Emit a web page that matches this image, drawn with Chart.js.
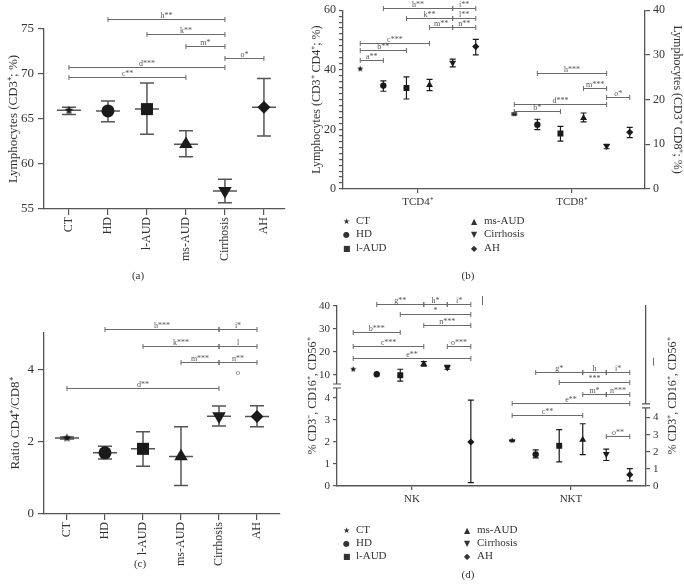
<!DOCTYPE html>
<html>
<head>
<meta charset="utf-8">
<title>Lymphocyte subsets</title>
<script src="https://cdn.jsdelivr.net/npm/chart.js@4.4.1/dist/chart.umd.min.js"></script>
<style>
  html, body { margin: 0; padding: 0; background: #fff; }
  #fig { position: relative; width: 684px; height: 585px; overflow: hidden; font-family: "Liberation Serif", serif; color: #333; }
  #fig canvas { position: absolute; }
  .tag { position: absolute; font-size: 11px; transform: translate(-50%, -50%); }
  .key { position: absolute; font-size: 11px; white-space: nowrap; transform: translateY(-50%); line-height: 1; }
  .key i { font-style: normal; font-family: "DejaVu Sans", sans-serif; font-size: 8px; display: inline-block; width: 13px; text-align: left; }
</style>
</head>
<body>
<div id="fig">
  <canvas id="ca" width="340" height="290" style="left:0;top:0"></canvas>
  <canvas id="cb" width="394" height="215" style="left:290px;top:0"></canvas>
  <canvas id="cc" width="340" height="295" style="left:0;top:290px"></canvas>
  <canvas id="cd" width="394" height="225" style="left:290px;top:290px"></canvas>

  <div class="tag" style="left:138px;top:275px">(a)</div>
  <div class="tag" style="left:468px;top:275px">(b)</div>
  <div class="tag" style="left:140px;top:563px">(c)</div>
  <div class="tag" style="left:468px;top:574px">(d)</div>

  <!-- légende (b) -->
  <div class="key" style="left:343px;top:220px"><i>★</i>CT</div>
  <div class="key" style="left:343px;top:233px"><i>●</i>HD</div>
  <div class="key" style="left:343px;top:247px"><i>■</i>l-AUD</div>
  <div class="key" style="left:471px;top:220px"><i>▲</i>ms-AUD</div>
  <div class="key" style="left:471px;top:233px"><i>▼</i>Cirrhosis</div>
  <div class="key" style="left:471px;top:247px"><i>◆</i>AH</div>

  <!-- légende (d) -->
  <div class="key" style="left:343px;top:529px"><i>★</i>CT</div>
  <div class="key" style="left:343px;top:542px"><i>●</i>HD</div>
  <div class="key" style="left:343px;top:555px"><i>■</i>l-AUD</div>
  <div class="key" style="left:464px;top:529px"><i>▲</i>ms-AUD</div>
  <div class="key" style="left:464px;top:542px"><i>▼</i>Cirrhosis</div>
  <div class="key" style="left:464px;top:555px"><i>◆</i>AH</div>
</div>

<script>
// ---------------------------------------------------------------------------
// Données (moyenne, borne basse, borne haute)
// ---------------------------------------------------------------------------
const groupes = ['CT', 'HD', 'l-AUD', 'ms-AUD', 'Cirrhosis', 'AH'];

// (a) Lymphocytes CD3+ (%)
const aMean = [65.97, 65.9, 66.1, 62.2, 57.0, 66.3];
const aLow  = [65.5, 64.7, 63.3, 60.8, 55.7, 63.1];
const aHigh = [66.3, 67.0, 69.0, 63.7, 58.3, 69.5];
const aTicks = [55, 60, 65, 70, 75];
// [de, à, niveau, texte]
const aBrackets = [
  [1, 4, 76.1, 'h**'], [2, 4, 74.4, 'k**'], [3, 4, 73.1, 'm*'],
  [4, 5, 71.8, 'o*'], [0, 4, 70.8, 'd***'], [0, 3, 69.7, 'c**'],
];

// (b) TCD4+ (axe gauche) et TCD8+ (axe droit)
const bGroupes = ['TCD4⁺', 'TCD8⁺'];
const cd4Mean = [40.3, 34.7, 33.9, 34.9, 42.4, 47.8];
const cd4Low  = [40.3, 32.8, 30.2, 33.0, 41.0, 45.0];
const cd4High = [40.3, 36.3, 37.6, 36.8, 43.6, 50.2];
const cd8Mean = [16.8, 14.4, 12.4, 15.9, 9.6, 12.7];
const cd8Low  = [16.6, 13.3, 10.7, 15.0, 9.0, 11.5];
const cd8High = [17.0, 15.6, 14.0, 17.0, 10.0, 13.8];
const cd4Ticks = [0, 20, 40, 60];
const cd8Ticks = [0, 10, 20, 30, 40];
const cd4Brackets = [
  [1, 4, 60.6, 'h**'], [4, 5, 60.6, 'i**'], [2, 4, 57.4, 'k**'], [4, 5, 57.4, 'l**'],
  [3, 4, 54.3, 'm**'], [4, 5, 54.3, 'n**'], [0, 3, 49.1, 'c***'], [0, 2, 46.7, 'b**'],
  [0, 1, 43.4, 'a**'],
];
const cd8Brackets = [
  [1, 4, 25.9, 'h***'], [3, 4, 22.6, 'm***'], [4, 5, 20.6, 'o*'],
  [0, 4, 19.1, 'd***'], [0, 2, 17.5, 'b*'],
];

// (c) Ratio CD4+/CD8+
const cMean = [2.10, 1.69, 1.80, 1.59, 2.70, 2.69];
const cLow  = [2.07, 1.52, 1.32, 0.79, 2.43, 2.41];
const cHigh = [2.13, 1.87, 2.27, 2.41, 2.98, 2.99];
const cTicks = [0, 2, 4];
const cBrackets = [
  [1, 4, 5.10, 'h***'], [4, 5, 5.10, 'i*'], [2, 4, 4.64, 'k***'], [4, 5, 4.64, 'l'],
  [3, 4, 4.21, 'm***'], [4, 5, 4.21, 'n**'], [4, 5, 3.81, 'o', false], [0, 4, 3.48, 'd**'],
];

// (d) NK (axe gauche coupé) et NKT (axe droit coupé)
const dGroupes = ['NK', 'NKT'];
const nkMean  = [12.5, 10.3, 9.9, 14.8, 13.3, 2.0];
const nkLow   = [12.4, 10.2, 7.3, 13.8, 12.5, 0.15];
const nkHigh  = [12.6, 10.4, 12.5, 15.8, 14.2, 3.9];
const nktMean = [2.65, 1.85, 2.35, 2.70, 1.87, 0.66];
const nktLow  = [2.62, 1.65, 1.41, 1.83, 1.49, 0.30];
const nktHigh = [2.68, 2.11, 3.30, 3.64, 2.15, 1.01];
const dLoTicks = [0, 1, 2, 3, 4];
const dHiTicks = [10, 20, 30, 40];
const nkBrackets = [
  [1, 3, 40.9, 'g**'], [3, 4, 40.9, 'h*'], [4, 5, 40.9, 'i*'], [2, 5, 36.5, '*'],
  [3, 5, 31.9, 'n***'], [0, 2, 28.7, 'b***'], [0, 3, 22.6, 'c***'], [4, 5, 22.4, 'o***'],
  [0, 5, 17.4, 'e**'],
];
const nktBrackets = [
  [1, 3, 6.69, 'g*'], [3, 4, 6.69, 'h'], [4, 5, 6.69, 'i*'], [2, 5, 6.06, '***'],
  [3, 4, 5.39, 'm*'], [4, 5, 5.39, 'n***'], [0, 5, 4.84, 'e**'], [0, 3, 4.15, 'c**'],
  [4, 5, 2.91, 'o**'],
];
const dTitreGauche = '% CD3⁻, CD16⁺, CD56⁺';
const dTitreDroite = '% CD3⁺, CD16⁺, CD56⁺';

// ---------------------------------------------------------------------------
// Style
// ---------------------------------------------------------------------------
const SERIF = '"Liberation Serif", "Times New Roman", serif';
const INK = '#1a1a1a';
const AXIS = '#555555';
const TEXT = '#333333';
const BRACKET = '#6a6a6a';

const FORMES = ['star', 'circle', 'rect', 'triangle', 'triangle', 'rectRot'];
const ROTATION = [0, 0, 0, 0, 180, 0];
const TAILLE_GRANDE = [4.5, 6.5, 8.5, 7.8, 7.8, 6.5];
const TAILLE_PETITE = [3, 3.2, 4.2, 4, 4, 3.6];

Chart.defaults.font.family = SERIF;
Chart.defaults.color = TEXT;

// étoile pleine (le 'star' de Chart.js n'est qu'un trait)
function etoile(r) {
  const c = document.createElement('canvas');
  const s = Math.ceil(r * 2 + 2);
  c.width = s; c.height = s;
  const g = c.getContext('2d');
  g.fillStyle = INK;
  g.beginPath();
  for (let i = 0; i < 10; i++) {
    const rr = i % 2 ? r * 0.45 : r;
    const a = -Math.PI / 2 + i * Math.PI / 5;
    g.lineTo(s / 2 + rr * Math.cos(a), s / 2 + rr * Math.sin(a));
  }
  g.closePath();
  g.fill();
  return c;
}

function stylePoints(tailles, star) {
  return {
    showLine: false,
    pointStyle: (c) => (c.raw ? (c.raw.s === 0 ? star : FORMES[c.raw.s]) : 'circle'),
    pointRadius: (c) => (c.raw ? tailles[c.raw.s] : 3),
    pointRotation: (c) => (c.raw ? ROTATION[c.raw.s] : 0),
    pointBackgroundColor: INK,
    pointBorderWidth: 0,
  };
}

// --- Axes --------------------------------------------------------------------

function axeGroupes(min, max, labels, o) {
  return {
    type: 'linear', min, max,
    afterBuildTicks: (s) => { s.ticks = labels.map((_, i) => ({ value: i })); },
    afterFit: (s) => { s.height = o.height; },
    ticks: {
      callback: (v) => labels[v], autoSkip: false,
      minRotation: o.rot, maxRotation: o.rot,
      font: { size: o.size }, color: TEXT, padding: o.pad,
    },
    grid: { drawOnChartArea: false, tickLength: o.tick, color: AXIS, lineWidth: 1.2 },
    border: { color: AXIS, width: o.dash ? 1.6 : 1.3, dash: o.dash || [] },
  };
}

function axeValeurs(o) {
  const axe = {
    type: 'linear', position: o.pos || 'left', min: o.min, max: o.max,
    afterBuildTicks: (s) => { s.ticks = o.ticks.map((v) => ({ value: v })); },
    afterFit: (s) => { s.width = o.width; },
    ticks: { display: o.ticks.length > 0, autoSkip: false, font: { size: o.size }, color: TEXT, padding: o.pad },
    grid: { display: o.ticks.length > 0, drawOnChartArea: false, tickLength: o.tick, color: AXIS, lineWidth: 1.2 },
    border: { color: AXIS, width: 1.3 },
    title: { display: false },
  };
  if (o.stack) { axe.stack = o.stack; axe.stackWeight = o.weight; }
  if (o.label) axe.ticks.callback = o.label;
  if (o.title) {
    axe.title = { display: true, text: o.title, font: { size: o.tsize }, color: TEXT, padding: { top: o.tpad, bottom: 0 } };
  }
  return axe;
}

// --- Plugins ------------------------------------------------------------------

const pixParDefaut = (chart, axe, v) => chart.scales[axe].getPixelForValue(v);

function barresErreur(o) {
  const pix = o.pix || pixParDefaut;
  return {
    id: 'barresErreur',
    beforeDatasetsDraw(chart) {
      const ctx = chart.ctx;
      ctx.save();
      ctx.strokeStyle = o.color;
      ctx.lineWidth = o.width;
      chart.data.datasets.forEach((ds, di) => {
        const meta = chart.getDatasetMeta(di);
        meta.data.forEach((el, i) => {
          const r = ds.data[i];
          const yl = pix(chart, meta.yAxisID, r.lo);
          const yh = pix(chart, meta.yAxisID, r.hi);
          ctx.beginPath();
          if (yl - yh > 1) {
            ctx.moveTo(el.x, yh); ctx.lineTo(el.x, yl);
            ctx.moveTo(el.x - o.cap, yh); ctx.lineTo(el.x + o.cap, yh);
            ctx.moveTo(el.x - o.cap, yl); ctx.lineTo(el.x + o.cap, yl);
          }
          if (o.mean) { ctx.moveTo(el.x - o.mean, el.y); ctx.lineTo(el.x + o.mean, el.y); }
          ctx.stroke();
        });
      });
      ctx.restore();
    },
  };
}

function crochets(liste, pix) {
  pix = pix || pixParDefaut;
  return {
    id: 'crochets',
    afterDatasetsDraw(chart) {
      const ctx = chart.ctx;
      const xs = chart.scales.x;
      ctx.save();
      ctx.strokeStyle = BRACKET;
      ctx.fillStyle = '#555';
      ctx.lineWidth = 1;
      ctx.font = '8px ' + SERIF;
      ctx.textAlign = 'center';
      ctx.textBaseline = 'alphabetic';
      liste.forEach((b) => {
        const x1 = xs.getPixelForValue(b.x1);
        const x2 = xs.getPixelForValue(b.x2);
        const y = Math.round(pix(chart, b.axe, b.v)) + 0.5;
        if (b.trait !== false) {
          ctx.beginPath();
          ctx.moveTo(x1, y); ctx.lineTo(x2, y);
          ctx.moveTo(x1, y - 2.5); ctx.lineTo(x1, y + 2.5);
          ctx.moveTo(x2, y - 2.5); ctx.lineTo(x2, y + 2.5);
          ctx.stroke();
        }
        ctx.fillText(b.t, (x1 + x2) / 2, y - 2);
      });
      ctx.restore();
    },
  };
}

const enCategorie = (liste) => liste.map(([a, b, v, t, trait]) => ({ x1: a, x2: b, v, t, trait, axe: 'y' }));
const enGroupe = (liste, g, ecart, axe) =>
  liste.map(([a, b, v, t]) => ({ x1: g + (a - 2.5) * ecart, x2: g + (b - 2.5) * ecart, v, t, axe }));

const pointsCategorie = (mean, low, high) =>
  mean.map((m, i) => ({ x: i, y: m, lo: low[i], hi: high[i], s: i }));
const pointsGroupe = (g, ecart, mean, low, high) =>
  mean.map((m, i) => ({ x: g + (i - 2.5) * ecart, y: m, lo: low[i], hi: high[i], s: i }));

const base = {
  responsive: false, animation: false, devicePixelRatio: 1, events: [],
  plugins: { legend: { display: false }, tooltip: { enabled: false } },
};

const grandeEtoile = etoile(4.5);
const petiteEtoile = etoile(3.2);

// --- (a) ------------------------------------------------------------------------

new Chart(document.getElementById('ca'), {
  type: 'scatter',
  data: { datasets: [{ data: pointsCategorie(aMean, aLow, aHigh), ...stylePoints(TAILLE_GRANDE, grandeEtoile) }] },
  options: {
    ...base,
    layout: { padding: { top: 29, right: 55, left: 0, bottom: 0 } },
    scales: {
      x: axeGroupes(-0.64, 5.54, groupes, { height: 81, rot: 90, size: 12, pad: 2, tick: 6 }),
      y: axeValeurs({ min: 55, max: 75, ticks: aTicks, width: 44, size: 13, pad: 4, tick: 6,
        title: 'Lymphocytes (CD3⁺; %)', tsize: 13, tpad: 6 }),
    },
  },
  plugins: [
    barresErreur({ color: '#555', width: 1.5, cap: 7, mean: 12 }),
    crochets(enCategorie(aBrackets)),
  ],
});

// --- (b) ------------------------------------------------------------------------

const B_ECART = 0.15;
const cd4Pas = [];
for (let v = 0; v <= 60; v += 2) cd4Pas.push(v);

new Chart(document.getElementById('cb'), {
  type: 'scatter',
  data: {
    datasets: [
      { data: pointsGroupe(0, B_ECART, cd4Mean, cd4Low, cd4High), yAxisID: 'y', ...stylePoints(TAILLE_PETITE, petiteEtoile) },
      { data: pointsGroupe(1, B_ECART, cd8Mean, cd8Low, cd8High), yAxisID: 'y2', ...stylePoints(TAILLE_PETITE, petiteEtoile) },
    ],
  },
  options: {
    ...base,
    layout: { padding: { top: 9, right: 0, left: 0, bottom: 0 } },
    scales: {
      x: axeGroupes(-0.487, 1.474, bGroupes, { height: 26, rot: 0, size: 11, pad: 3, tick: 4 }),
      y: axeValeurs({ min: 0, max: 60, ticks: cd4Pas, width: 53, size: 12, pad: 3, tick: 4,
        label: (v) => (cd4Ticks.includes(v) ? v : ''),
        title: 'Lymphocytes (CD3⁺ CD4⁺; %)', tsize: 12, tpad: 20 }),
      y2: axeValeurs({ pos: 'right', min: 0, max: 40, ticks: cd8Ticks, width: 39, size: 12, pad: 3, tick: 5,
        title: 'Lymphocytes (CD3⁺ CD8⁺; %)', tsize: 12, tpad: 0 }),
    },
  },
  plugins: [
    barresErreur({ color: INK, width: 1.2, cap: 3, mean: 0 }),
    crochets(enGroupe(cd4Brackets, 0, B_ECART, 'y').concat(enGroupe(cd8Brackets, 1, B_ECART, 'y2'))),
  ],
});

// --- (c) ------------------------------------------------------------------------

new Chart(document.getElementById('cc'), {
  type: 'scatter',
  data: { datasets: [{ data: pointsCategorie(cMean, cLow, cHigh), ...stylePoints(TAILLE_GRANDE, grandeEtoile) }] },
  options: {
    ...base,
    layout: { padding: { top: 43, right: 60, left: 0, bottom: 0 } },
    scales: {
      x: axeGroupes(-0.605, 5.605, groupes, { height: 71, rot: 90, size: 12, pad: 2, tick: 6 }),
      y: axeValeurs({ min: 0, max: 5, ticks: cTicks, width: 44, size: 13, pad: 4, tick: 6,
        title: 'Ratio CD4⁺/CD8⁺', tsize: 13, tpad: 8 }),
    },
  },
  plugins: [
    barresErreur({ color: '#555', width: 1.5, cap: 7, mean: 12 }),
    crochets(enCategorie(cBrackets)),
  ],
});

// --- (d) : deux axes coupés (pile haute / basse de chaque côté) -----------------

const D_ECART = 0.148;
const D_COUPURE_G = 5.22;   // bas du segment haut, axe gauche
const D_COUPURE_D = 4.68;   // haut du segment bas, axe droit

const pixD = (chart, axe, v) => {
  const s = chart.scales;
  if (axe === 'yHi' || axe === 'yLo') return (v >= s.yHi.min ? s.yHi : s.yLo).getPixelForValue(v);
  return (v > s.rLo.max ? s.rHi : s.rLo).getPixelForValue(v);
};

const nkPoints = pointsGroupe(0, D_ECART, nkMean, nkLow, nkHigh);

// petits traits parasites visibles sur la figure
const dTraits = [[0.44, 'yHi', 40.4, 44.3], [1.516, 'rLo', 7.03, 7.5]];

// coupures d'axe + titres (centrés sur l'axe entier, pas sur un segment)
const coupures = {
  id: 'coupures',
  afterDraw(chart) {
    const ctx = chart.ctx;
    const s = chart.scales;
    ctx.save();
    [[s.yLo.right, s.yLo.top], [s.rLo.left, s.rLo.top]].forEach(([x, y]) => {
      ctx.fillStyle = '#fff';
      ctx.fillRect(x - 3, y - 2, 6, 4);
      ctx.strokeStyle = AXIS;
      ctx.lineWidth = 1.2;
      ctx.beginPath();
      ctx.moveTo(x - 4, y - 2); ctx.lineTo(x + 4, y - 2);
      ctx.moveTo(x - 4, y + 2); ctx.lineTo(x + 4, y + 2);
      ctx.stroke();
    });
    ctx.strokeStyle = BRACKET;
    ctx.lineWidth = 1;
    dTraits.forEach(([x, axe, a, b]) => {
      const px = Math.round(s.x.getPixelForValue(x)) + 0.5;
      ctx.beginPath();
      ctx.moveTo(px, pixD(chart, axe, a));
      ctx.lineTo(px, pixD(chart, axe, b));
      ctx.stroke();
    });

    const milieu = (chart.chartArea.top + chart.chartArea.bottom) / 2;
    ctx.fillStyle = TEXT;
    ctx.font = '12px ' + SERIF;
    ctx.textAlign = 'center';
    ctx.textBaseline = 'middle';
    [[23, dTitreGauche], [383, dTitreDroite]].forEach(([x, t]) => {
      ctx.save();
      ctx.translate(x, milieu);
      ctx.rotate(-Math.PI / 2);
      ctx.fillText(t, 0, 0);
      ctx.restore();
    });
    ctx.restore();
  },
};

new Chart(document.getElementById('cd'), {
  type: 'scatter',
  data: {
    datasets: [
      { data: nkPoints.filter((p) => p.y >= D_COUPURE_G), yAxisID: 'yHi', ...stylePoints(TAILLE_PETITE, petiteEtoile) },
      { data: nkPoints.filter((p) => p.y < D_COUPURE_G), yAxisID: 'yLo', ...stylePoints(TAILLE_PETITE, petiteEtoile) },
      { data: pointsGroupe(1, D_ECART, nktMean, nktLow, nktHigh), yAxisID: 'rLo', ...stylePoints(TAILLE_PETITE, petiteEtoile) },
    ],
  },
  options: {
    ...base,
    layout: { padding: { top: 16, right: 0, left: 0, bottom: 0 } },
    scales: {
      x: axeGroupes(-0.472, 1.472, dGroupes, { height: 29, rot: 0, size: 11, pad: 3, tick: 4, dash: [2, 1.5] }),
      // à gauche l'ordre est inversé par Chart.js : le dernier déclaré est placé en haut
      yLo: axeValeurs({ min: 0, max: 4.545, ticks: dLoTicks, width: 47, size: 11, pad: 3, tick: 4, stack: 'gauche', weight: 100 }),
      yHi: axeValeurs({ min: D_COUPURE_G, max: 40, ticks: dHiTicks, width: 47, size: 11, pad: 3, tick: 4, stack: 'gauche', weight: 80 }),
      rHi: axeValeurs({ pos: 'right', min: D_COUPURE_D, max: 10.52, ticks: [], width: 38, size: 11, pad: 3, tick: 4, stack: 'droite', weight: 100.5 }),
      rLo: axeValeurs({ pos: 'right', min: 0, max: D_COUPURE_D, ticks: dLoTicks, width: 38, size: 11, pad: 3, tick: 4, stack: 'droite', weight: 80.5 }),
    },
  },
  plugins: [
    barresErreur({ color: INK, width: 1.2, cap: 3, mean: 0, pix: pixD }),
    crochets(enGroupe(nkBrackets, 0, D_ECART, 'yHi').concat(enGroupe(nktBrackets, 1, D_ECART, 'rLo')), pixD),
    coupures,
  ],
});
</script>
</body>
</html>
